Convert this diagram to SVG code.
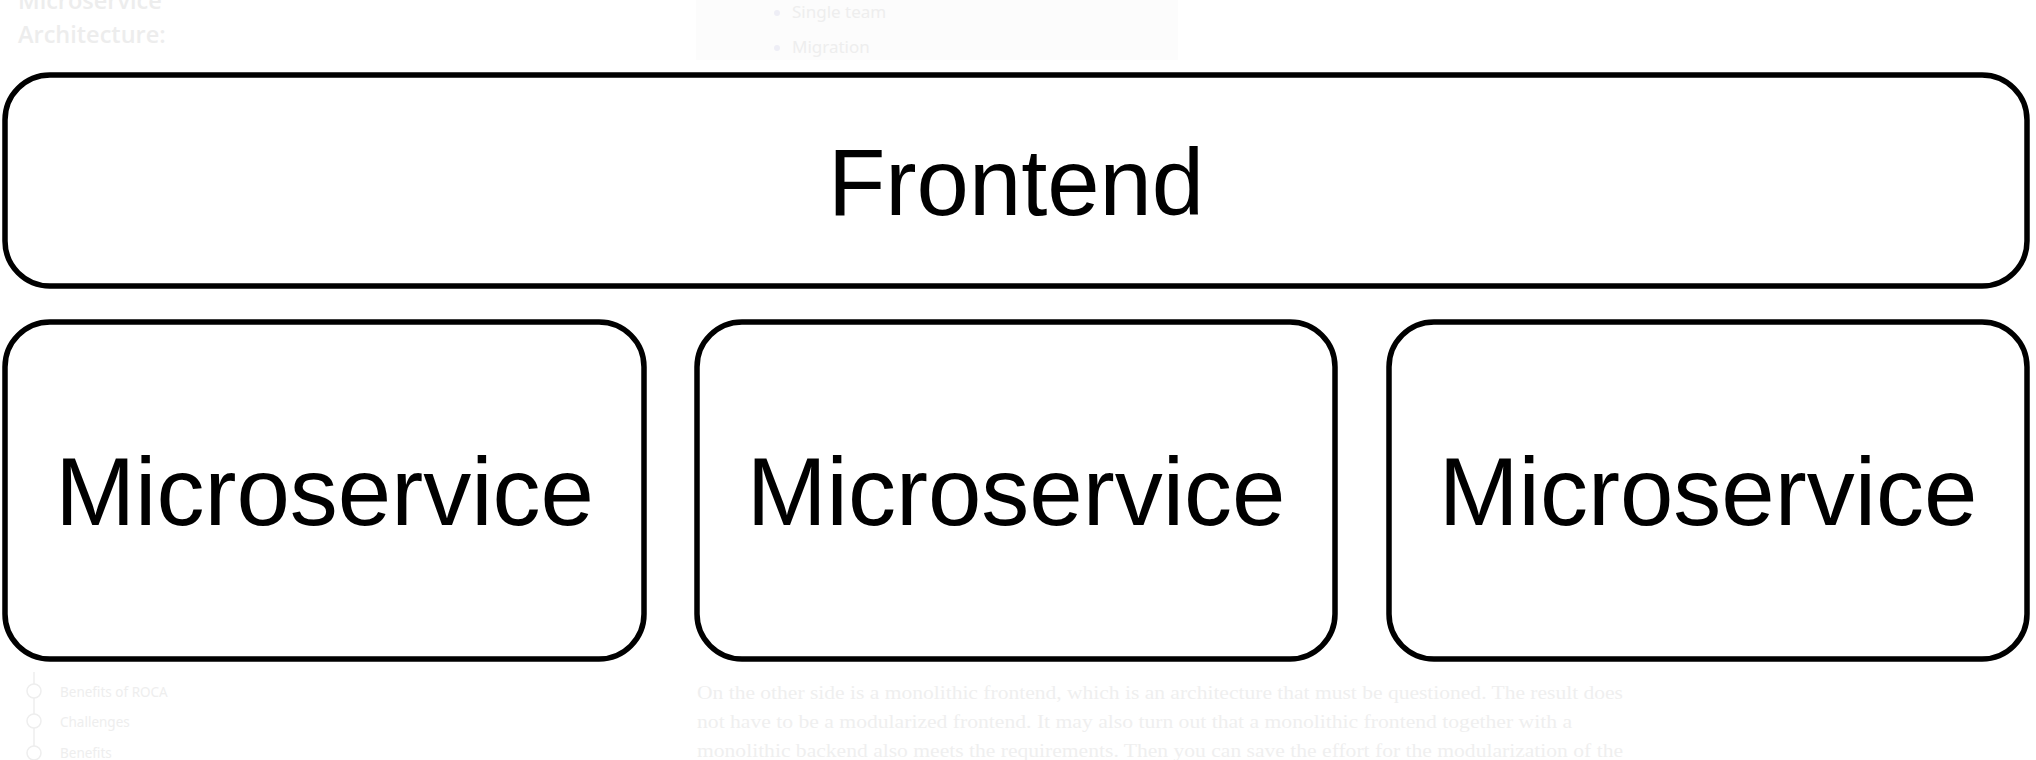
<svg xmlns="http://www.w3.org/2000/svg" width="2036" height="760" viewBox="0 0 2036 760">
<style>
.box{fill:#ffffff;stroke:#000000;stroke-width:5.5}
.lbl{font-family:"Liberation Sans",Arial,Helvetica,sans-serif;fill:#000000;text-anchor:middle}
.ghead{font-family:"Open Sans","Noto Sans",sans-serif;font-weight:600;font-size:23.5px;fill:#ededed}
.gsans{font-family:"Noto Sans","Open Sans",sans-serif;fill:#eeeeee}
.gserif{font-family:"Liberation Serif","DejaVu Serif",serif;font-size:19px;fill:#efefef}
.tl{fill:#ffffff;stroke:#eeeeee;stroke-width:1.5}
</style>
<rect width="2036" height="760" fill="#ffffff"/>
<g id="background">
  <text class="ghead" x="18" y="9">Microservice</text>
  <text class="ghead" x="18" y="43">Architecture:</text>
  <rect x="696" y="0" width="482" height="60" fill="#fcfcfc"/>
  <circle cx="777" cy="13" r="3" fill="#eeeef6"/>
  <text class="gsans" x="792" y="18" font-size="17">Single team</text>
  <circle cx="777" cy="48" r="3" fill="#eeeef6"/>
  <text class="gsans" x="792" y="53" font-size="17">Migration</text>
  <line x1="34" y1="672" x2="34" y2="760" stroke="#eeeeee" stroke-width="1.5"/>
  <circle class="tl" cx="34" cy="691" r="7"/>
  <circle class="tl" cx="34" cy="721" r="7"/>
  <circle class="tl" cx="34" cy="753" r="7"/>
  <text class="gsans" x="60" y="697" font-size="13.5">Benefits of ROCA</text>
  <text class="gsans" x="60" y="727" font-size="13.5">Challenges</text>
  <text class="gsans" x="60" y="758" font-size="13.5">Benefits</text>
  <text class="gserif" x="697" y="699" textLength="926" lengthAdjust="spacingAndGlyphs">On the other side is a monolithic frontend, which is an architecture that must be questioned. The result does</text>
  <text class="gserif" x="697" y="728" textLength="875" lengthAdjust="spacingAndGlyphs">not have to be a modularized frontend. It may also turn out that a monolithic frontend together with a</text>
  <text class="gserif" x="697" y="757" textLength="926" lengthAdjust="spacingAndGlyphs">monolithic backend also meets the requirements. Then you can save the effort for the modularization of the</text>
</g>
<g id="connectors"></g>
<g id="frontend">
  <rect class="box" x="5" y="75" width="2022" height="211" rx="45" ry="45"/>
  <text class="lbl" x="1016" y="215" font-size="94">Frontend</text>
</g>
<g id="microservice-1">
  <rect class="box" x="5" y="322" width="639" height="337" rx="45" ry="45"/>
  <text class="lbl" x="324.5" y="525" font-size="96">Microservice</text>
</g>
<g id="microservice-2">
  <rect class="box" x="697" y="322" width="638" height="337" rx="45" ry="45"/>
  <text class="lbl" x="1016" y="525" font-size="96">Microservice</text>
</g>
<g id="microservice-3">
  <rect class="box" x="1389" y="322" width="638" height="337" rx="45" ry="45"/>
  <text class="lbl" x="1708" y="525" font-size="96">Microservice</text>
</g>
</svg>
